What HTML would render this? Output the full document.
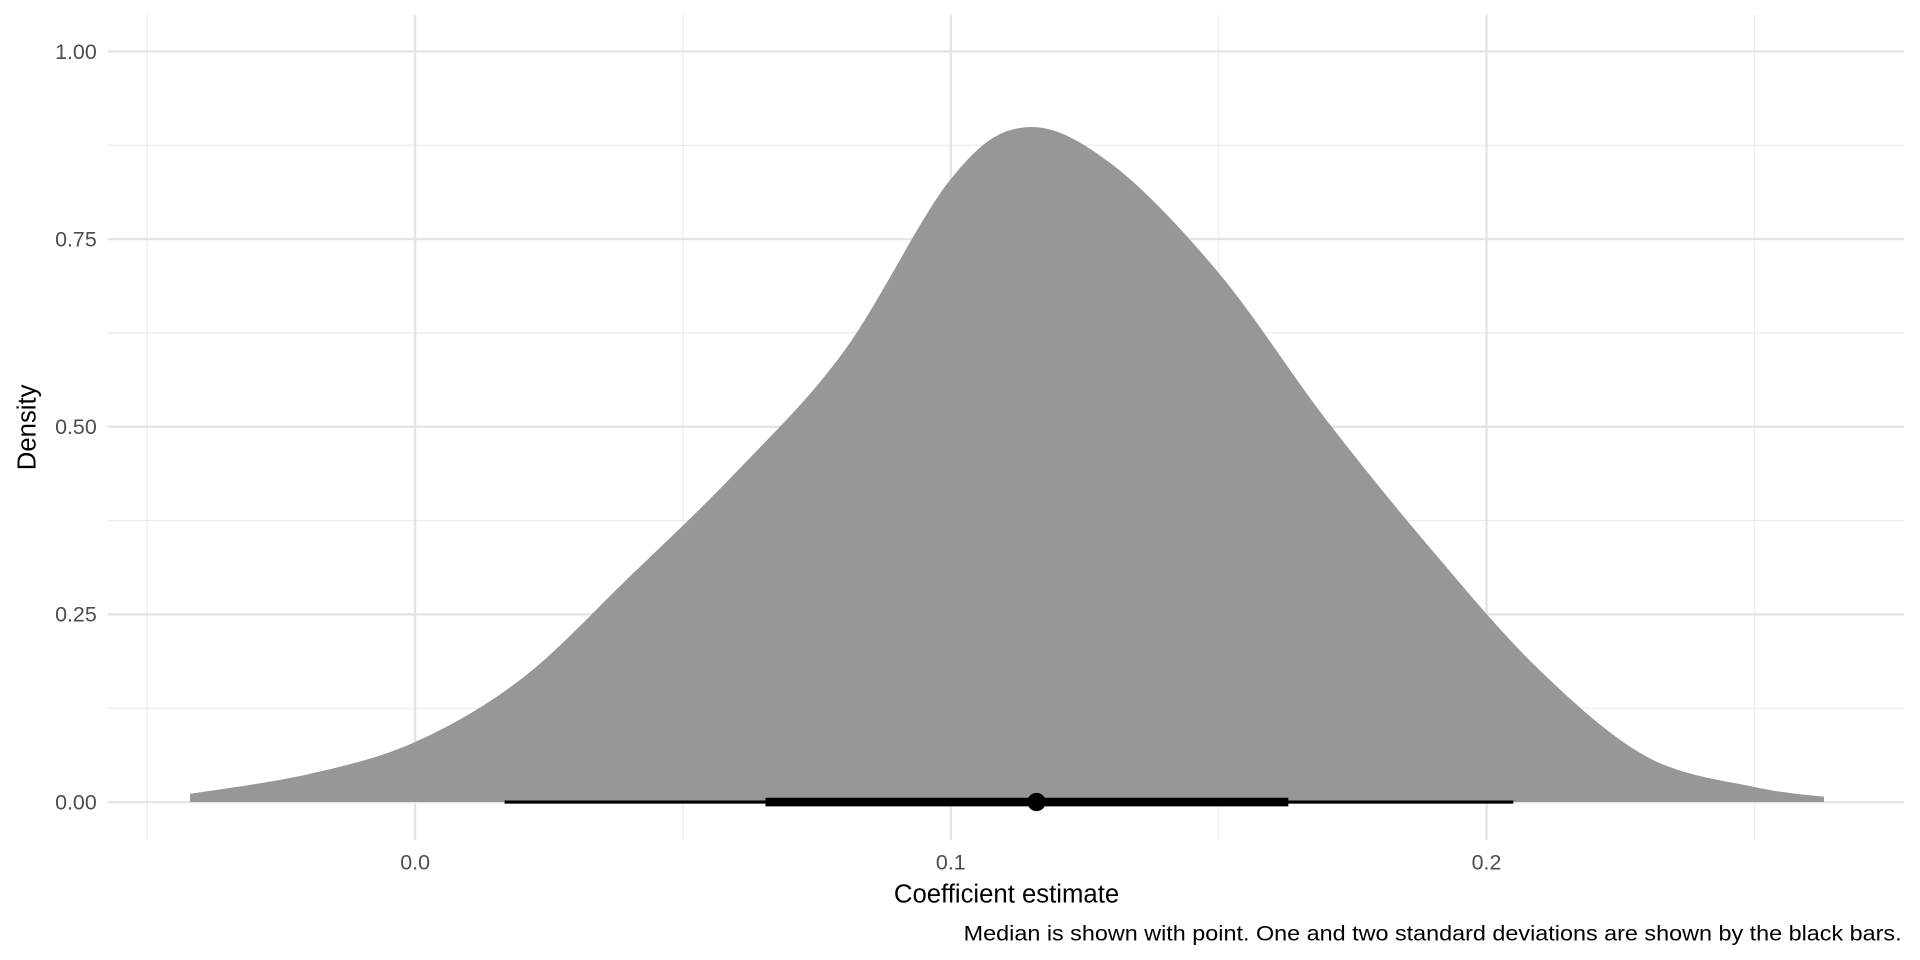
<!DOCTYPE html>
<html><head><meta charset="utf-8"><style>
html,body{margin:0;padding:0;background:#fff;}
svg{display:block;font-family:"Liberation Sans",Arial,sans-serif;}
</style></head><body>
<svg id="chart" width="1920" height="960" viewBox="0 0 1568 784" xmlns="http://www.w3.org/2000/svg">
<g id="grid"></g>
<g id="area"></g>
<g id="bars"></g>
<g id="axes"></g>
<text x="822" y="737" font-size="21" text-anchor="middle" fill="#000">Coefficient estimate</text>
<text transform="translate(29,349) rotate(-90)" font-size="21" text-anchor="middle" fill="#000">Density</text>
<text x="1553" y="768" font-size="17" textLength="766" lengthAdjust="spacingAndGlyphs" text-anchor="end" fill="#000">Median is shown with point. One and two standard deviations are shown by the black bars.</text>
</svg>
<script>
const xs=[-0.042,-0.02,0,0.02,0.04,0.06,0.08,0.10,0.114,0.13,0.15,0.17,0.19,0.21,0.23,0.25,0.263];
const dens=[0.011,0.037,0.08,0.165,0.30,0.44,0.60,0.83,0.899,0.85,0.705,0.51,0.334,0.175,0.06,0.02,0.007];
const xTicks=[0,0.1,0.2];
const xTickLabels=["0.0","0.1","0.2"];
const xMinor=[-0.05,0.05,0.15,0.25];
const yTicks=[0,0.25,0.5,0.75,1];
const yTickLabels=["0.00","0.25","0.50","0.75","1.00"];
const yMinor=[0.125,0.375,0.625,0.875];
const median=0.116;
const sd1=[0.0654,0.163];
const sd2=[0.0167,0.205];
const X=v=>339+v*4375, Y=v=>655-v*613;
const NS="http://www.w3.org/2000/svg";
function mk(t,a,p){const e=document.createElementNS(NS,t);for(const k in a)e.setAttribute(k,a[k]);p.appendChild(e);return e;}
const grid=document.getElementById('grid'),axes=document.getElementById('axes');
xMinor.forEach(v=>{const l=mk('line',{x1:X(v),x2:X(v),y1:12,y2:686,stroke:'#ebebeb','stroke-width':1},grid);

});
yMinor.forEach(v=>{const l=mk('line',{x1:88,x2:1555,y1:Y(v),y2:Y(v),stroke:'#ebebeb','stroke-width':1},grid);

});
xTicks.forEach((v,i)=>{const l=mk('line',{x1:X(v),x2:X(v),y1:12,y2:686,stroke:'#e5e5e5','stroke-width':2},grid);


const t=mk('text',{x:X(v),y:710,'font-size':17.5,'text-anchor':'middle',fill:'#4d4d4d'},axes);t.textContent=xTickLabels[i];

});
yTicks.forEach((v,i)=>{const l=mk('line',{x1:88,x2:1555,y1:Y(v),y2:Y(v),stroke:'#e5e5e5','stroke-width':2},grid);


const t=mk('text',{x:79,y:Y(v)+6,'font-size':17.5,'text-anchor':'end',fill:'#4d4d4d'},axes);t.textContent=yTickLabels[i];

});
const P=xs.map((x,i)=>[X(x),Y(dens[i])]);
let d=`M${P[0][0]},${Y(0)} L${P[0][0]},${P[0][1]}`;
for(let i=0;i<P.length-1;i++){const p0=P[Math.max(0,i-1)],p1=P[i],p2=P[i+1],p3=P[Math.min(P.length-1,i+2)];
d+=` C${p1[0]+(p2[0]-p0[0])/6},${p1[1]+(p2[1]-p0[1])/6} ${p2[0]-(p3[0]-p1[0])/6},${p2[1]-(p3[1]-p1[1])/6} ${p2[0]},${p2[1]}`;}
d+=` L${P[P.length-1][0]},${Y(0)} Z`;
const a=mk('path',{d:d,fill:'#979797'},document.getElementById('area'));


const bars=document.getElementById('bars');
const b2=mk('line',{x1:X(sd2[0]),x2:X(sd2[1]),y1:Y(0),y2:Y(0),stroke:'#000','stroke-width':2.5},bars);


const b1=mk('line',{x1:X(sd1[0]),x2:X(sd1[1]),y1:Y(0),y2:Y(0),stroke:'#000','stroke-width':7},bars);


const m=mk('circle',{cx:X(median),cy:Y(0),r:7.5,fill:'#000'},bars);


</script>
</body></html>
